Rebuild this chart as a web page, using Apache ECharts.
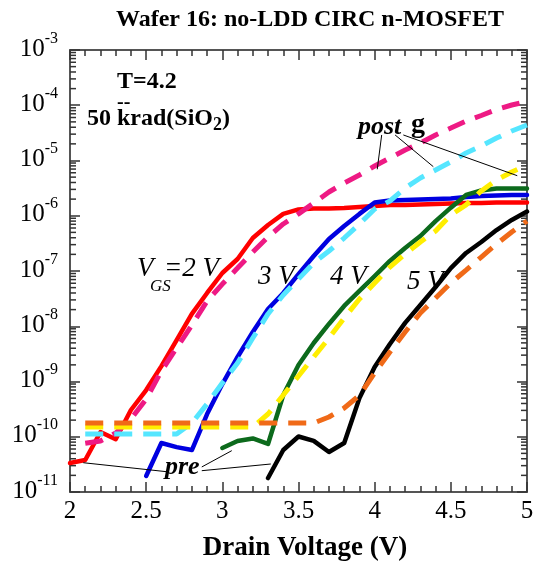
<!DOCTYPE html>
<html>
<head>
<meta charset="utf-8">
<script src="https://cdn.jsdelivr.net/npm/echarts@6/dist/echarts.min.js"></script>
<style>html,body{margin:0;padding:0;background:#fff}#chart{width:545px;height:566px}</style>
</head>
<body>
<div id="chart"></div>
<script>
// Drain voltage samples (V)
const drainV = [2.0,2.1,2.2,2.3,2.4,2.5,2.6,2.7,2.8,2.9,3.0,3.1,3.2,3.3,3.4,3.5,3.6,3.7,3.8,3.9,4.0,4.1,4.2,4.3,4.4,4.5,4.6,4.7,4.8,4.9,5.0];
const xTicks = [2, 2.5, 3, 3.5, 4, 4.5, 5];
const yDecades = [1e-11,1e-10,1e-9,1e-8,1e-7,1e-6,1e-5,1e-4,1e-3];

// Drain current (A), pre-irradiation (solid) and post-gamma (dashed)
const pre2V  = [3.35e-11,3.8e-11,1.22e-10,9.0e-11,3.05e-10,7.0e-10,1.9e-9,5.6e-9,1.67e-8,4.0e-8,9.2e-8,1.65e-7,3.95e-7,6.8e-7,1.08e-6,1.30e-6,1.35e-6,1.35e-6,1.38e-6,1.44e-6,1.50e-6,1.57e-6,1.57e-6,1.60e-6,1.63e-6,1.67e-6,1.70e-6,1.70e-6,1.74e-6,1.74e-6,1.74e-6];
const post2V = [null,7.6e-11,8.4e-11,1.17e-10,2.1e-10,4.8e-10,1.55e-9,4.04e-9,1.05e-8,2.86e-8,5.8e-8,1.13e-7,2.21e-7,4.12e-7,7.1e-7,1.08e-6,1.70e-6,2.69e-6,3.92e-6,5.47e-6,7.95e-6,1.11e-5,1.55e-5,2.07e-5,2.9e-5,3.87e-5,5.19e-5,6.52e-5,8.38e-5,1.01e-4,1.17e-4];
const pre3V  = [null,null,null,null,null,1.95e-11,7.7e-11,6.5e-11,5.75e-11,2.58e-10,9.0e-10,2.78e-9,7.87e-9,2.05e-8,4.0e-8,8.8e-8,1.87e-7,3.8e-7,6.5e-7,1.08e-6,1.74e-6,1.89e-6,1.93e-6,1.97e-6,2.01e-6,2.05e-6,2.18e-6,2.28e-6,2.33e-6,2.38e-6,2.38e-6];
const post3V = [null,1.12e-10,1.12e-10,1.12e-10,1.12e-10,1.12e-10,1.12e-10,1.12e-10,1.77e-10,3.92e-10,9.4e-10,2.16e-9,6.12e-9,1.67e-8,3.68e-8,7.16e-8,1.40e-7,2.30e-7,3.95e-7,7.1e-7,1.33e-6,1.85e-6,3.18e-6,4.82e-6,6.73e-6,9.4e-6,1.37e-5,1.83e-5,2.55e-5,3.42e-5,4.39e-5];
const pre4V  = [null,null,null,null,null,null,null,null,null,null,6.25e-11,8.4e-11,9.3e-11,7.4e-11,5.7e-10,1.99e-9,4.98e-9,1.10e-8,2.33e-8,4.35e-8,8.1e-8,1.52e-7,2.61e-7,4.3e-7,8.0e-7,1.4e-6,2.38e-6,2.86e-6,3.11e-6,3.11e-6,3.11e-6];
const post4V = [null,1.50e-10,1.50e-10,1.50e-10,1.50e-10,1.50e-10,1.50e-10,1.50e-10,1.50e-10,1.50e-10,1.50e-10,1.50e-10,1.50e-10,2.58e-10,5.7e-10,1.26e-9,2.78e-9,6.12e-9,1.41e-8,3.11e-8,6.07e-8,1.18e-7,2.03e-7,3.35e-7,5.30e-7,1.03e-6,1.57e-6,2.81e-6,4.44e-6,6.19e-6,8.3e-6];
const pre5V  = [null,null,null,null,null,null,null,null,null,null,null,null,null,1.79e-11,5.75e-11,1.01e-10,8.4e-11,5.3e-11,7.7e-11,5.0e-10,1.83e-9,4.77e-9,1.15e-8,2.43e-8,5.13e-8,1.13e-7,2.12e-7,3.35e-7,5.52e-7,8.4e-7,1.19e-6];
const post5V = [null,1.77e-10,1.77e-10,1.77e-10,1.77e-10,1.77e-10,1.77e-10,1.77e-10,1.77e-10,1.77e-10,1.77e-10,1.77e-10,1.77e-10,1.77e-10,1.77e-10,1.77e-10,1.77e-10,2.28e-10,3.31e-10,5.6e-10,1.43e-9,3.42e-9,7.87e-9,1.74e-8,3.24e-8,6.07e-8,1.04e-7,1.79e-7,3.08e-7,5.08e-7,8.03e-7];

// Leader lines for "post g" and "pre" labels, in data coordinates [V1, I1, V2, I2]
const leaderLines = [
  [4.046, 2.9e-5, 4.017, 6.93e-6],
  [4.134, 2.9e-5, 4.385, 7.73e-6],
  [4.188, 2.9e-5, 4.936, 5.31e-6],
  [2.087, 3.39e-11, 2.635, 2.33e-11],
  [2.865, 2.84e-11, 3.062, 5.6e-11],
  [2.865, 2.43e-11, 3.318, 3.21e-11]
];

const FONT = 'Liberation Serif';

function pairs(arr) {
  const out = [];
  arr.forEach((v, i) => { if (v !== null) out.push([drainV[i], v]); });
  return out;
}

const minorLogTicks = [];
for (let n = -11; n < -3; n++) {
  for (let k = 2; k <= 9; k++) minorLogTicks.push([2, k * Math.pow(10, n)]);
}

function solid(name, arr, color, w) {
  return { name, type: 'line', data: pairs(arr), showSymbol: false, symbol: 'none',
    lineStyle: { color, width: w, type: 'solid', cap: 'round', join: 'round' }, z: 3 };
}
function dashed(name, arr, color) {
  return { name, type: 'line', data: pairs(arr), showSymbol: false, symbol: 'none',
    lineStyle: { color, width: 5, type: [18, 11], cap: 'butt' }, z: 4 };
}

const axisLineStyle = { color: '#555', width: 2 };

const chart = echarts.init(document.getElementById('chart'), null, { renderer: 'canvas' });
chart.setOption({
  animation: false,
  backgroundColor: '#fff',
  grid: { left: 70, right: 18, top: 50, bottom: 74 },
  xAxis: [{
    type: 'value', min: 2, max: 5, interval: 0.5, position: 'bottom',
    axisLine: { show: true, lineStyle: axisLineStyle },
    axisTick: { show: true, inside: true, length: 10, lineStyle: { color: '#333', width: 1.5 } },
    minorTick: { show: true, splitNumber: 5, length: 6, lineStyle: { color: '#333', width: 1.5 } },
    splitLine: { show: false },
    axisLabel: { fontFamily: FONT, fontSize: 25, color: '#000', margin: 7,
      formatter: v => String(+v.toFixed(1)) }
  }, {
    type: 'value', min: 2, max: 5, interval: 0.5, position: 'top',
    axisLine: { show: true, lineStyle: axisLineStyle },
    axisTick: { show: true, inside: true, length: 10, lineStyle: { color: '#333', width: 1.5 } },
    minorTick: { show: true, splitNumber: 5, length: 6, lineStyle: { color: '#333', width: 1.5 } },
    splitLine: { show: false }, axisLabel: { show: false }
  }],
  yAxis: [{
    type: 'log', logBase: 10, min: 1e-11, max: 1e-3, position: 'left',
    axisLine: { show: true, lineStyle: axisLineStyle },
    axisTick: { show: true, inside: true, length: 10, lineStyle: { color: '#333', width: 1.5 } },
    splitLine: { show: false },
    axisLabel: {
      margin: 12,
      formatter: v => '{b|10}{s|' + Math.round(Math.log10(v)) + '}',
      rich: {
        b: { fontFamily: FONT, fontSize: 25, color: '#000', lineHeight: 25, verticalAlign: 'bottom', padding: [0, 0, 1, 0] },
        s: { fontFamily: FONT, fontSize: 16, color: '#000', lineHeight: 16, verticalAlign: 'bottom', padding: [0, 0, 16, 0] }
      }
    }
  }, {
    type: 'log', logBase: 10, min: 1e-11, max: 1e-3, position: 'right',
    axisLine: { show: true, lineStyle: axisLineStyle },
    axisTick: { show: true, inside: true, length: 10, lineStyle: { color: '#333', width: 1.5 } },
    splitLine: { show: false }, axisLabel: { show: false }
  }],
  series: [
    {
      name: 'logMinorTicks', type: 'custom', data: minorLogTicks, silent: true, z: 2,
      encode: { x: 0, y: 1 },
      renderItem: (params, api) => {
        const v = api.value(1);
        const pl = api.coord([2, v]);
        const pr = api.coord([5, v]);
        const st = { stroke: '#333', lineWidth: 1.5 };
        return { type: 'group', children: [
          { type: 'line', shape: { x1: pl[0], y1: pl[1], x2: pl[0] + 6, y2: pl[1] }, style: st },
          { type: 'line', shape: { x1: pr[0], y1: pr[1], x2: pr[0] - 6, y2: pr[1] }, style: st }
        ] };
      }
    },
    solid('pre 2 V', pre2V, '#ff0000', 4.5),
    solid('pre 3 V', pre3V, '#0000e0', 4.5),
    solid('pre 4 V', pre4V, '#0c6a1c', 4.5),
    solid('pre 5 V', pre5V, '#000000', 4.5),
    dashed('post 2 V', post2V, '#ee1a84'),
    dashed('post 3 V', post3V, '#55e6ff'),
    dashed('post 4 V', post4V, '#ffee00'),
    dashed('post 5 V', post5V, '#f06a18'),
    {
      name: 'leaders', type: 'custom', data: leaderLines, silent: true, z: 6,
      encode: { x: [0, 2], y: [1, 3] },
      renderItem: (params, api) => {
        const a = api.coord([api.value(0), api.value(1)]);
        const b = api.coord([api.value(2), api.value(3)]);
        return { type: 'line', shape: { x1: a[0], y1: a[1], x2: b[0], y2: b[1] },
          style: { stroke: '#000', lineWidth: 1 } };
      }
    }
  ],
  graphic: [
    { type: 'text', x: 310, y: 20, style: { text: 'Wafer 16: no-LDD CIRC n-MOSFET',
      font: 'bold 24px "Liberation Serif"', fill: '#000', align: 'center', verticalAlign: 'middle' } },
    { type: 'text', x: 117, y: 82, style: { text: 'T=4.2', font: 'bold 24px "Liberation Serif"', fill: '#000', verticalAlign: 'middle' } },
    { type: 'text', x: 117, y: 103, style: { text: '--', font: 'bold 20px "Liberation Serif"', fill: '#000', verticalAlign: 'middle' } },
    { type: 'text', x: 87, y: 118, style: {
      text: '{a|50 krad(SiO}{b|2}{a|)}', verticalAlign: 'middle',
      rich: { a: { fontFamily: FONT, fontWeight: 'bold', fontSize: 24, fill: '#000', lineHeight: 26, verticalAlign: 'bottom' },
              b: { fontFamily: FONT, fontWeight: 'bold', fontSize: 18, fill: '#000', lineHeight: 18, verticalAlign: 'bottom', padding: [0, 0, -3, 0] } } } },
    { type: 'text', x: 358, y: 127, style: { text: 'post', font: 'italic bold 26px "Liberation Serif"', fill: '#000', verticalAlign: 'middle' } },
    { type: 'text', x: 411, y: 125, style: { text: 'g', font: 'bold 28px "Liberation Serif"', fill: '#000', verticalAlign: 'middle' } },
    { type: 'text', x: 165, y: 467, style: { text: 'pre', font: 'italic bold 26px "Liberation Serif"', fill: '#000', verticalAlign: 'middle' } },
    { type: 'text', x: 137, y: 269, style: { text: 'V', font: 'italic 27px "Liberation Serif"', fill: '#000', verticalAlign: 'middle' } },
    { type: 'text', x: 150, y: 287, style: { text: 'GS', font: 'italic 17px "Liberation Serif"', fill: '#000', verticalAlign: 'middle' } },
    { type: 'text', x: 164, y: 269, style: { text: '=2 V', font: 'italic 27px "Liberation Serif"', fill: '#000', verticalAlign: 'middle' } },
    { type: 'text', x: 258, y: 277, style: { text: '3 V', font: 'italic 27px "Liberation Serif"', fill: '#000', verticalAlign: 'middle' } },
    { type: 'text', x: 330, y: 277, style: { text: '4 V', font: 'italic 27px "Liberation Serif"', fill: '#000', verticalAlign: 'middle' } },
    { type: 'text', x: 407, y: 282, style: { text: '5 V', font: 'italic 27px "Liberation Serif"', fill: '#000', verticalAlign: 'middle' } },
    { type: 'text', x: 305, y: 548, style: { text: 'Drain Voltage (V)', font: 'bold 27px "Liberation Serif"', fill: '#000', align: 'center', verticalAlign: 'middle' } }
  ]
});
</script>
</body>
</html>
